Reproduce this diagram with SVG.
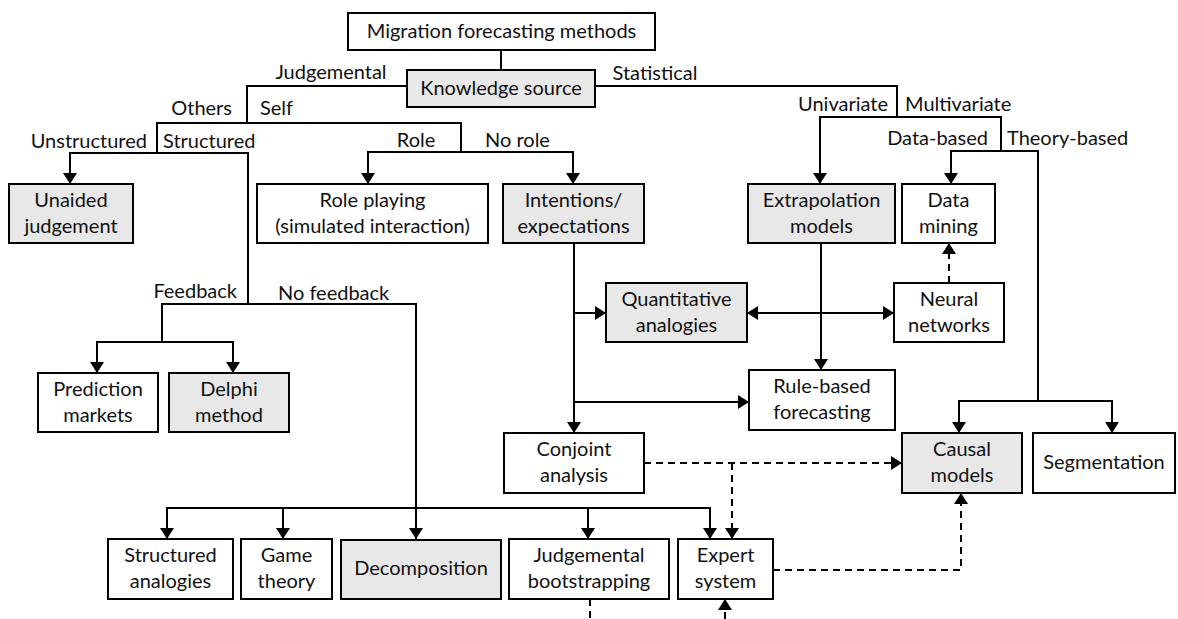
<svg xmlns="http://www.w3.org/2000/svg" width="1178" height="619" viewBox="0 0 1178 619">
  <style>
    .box { fill: #ffffff; stroke: #000000; stroke-width: 2; }
    .gray { fill: #e8e8e8; }
    text { font-family: Lato, "Open Sans", "Liberation Sans", sans-serif; font-size: 20px; fill: #111111; }
    .c { text-anchor: middle; }
    .e { text-anchor: end; }
    .ln { fill: none; stroke: #000000; stroke-width: 2; }
    .arr { marker-end: url(#head); }
    .dash { stroke-dasharray: 7 5; }
  </style>
  <defs>
    <marker id="head" viewBox="0 0 11 14" refX="11" refY="7" markerWidth="11" markerHeight="14" markerUnits="userSpaceOnUse" orient="auto">
      <path d="M0,0 L11,7 L0,14 Z" fill="#000000"/>
    </marker>
    <marker id="tail" viewBox="0 0 11 14" refX="0" refY="7" markerWidth="11" markerHeight="14" markerUnits="userSpaceOnUse" orient="auto">
      <path d="M11,0 L0,7 L11,14 Z" fill="#000000"/>
    </marker>
  </defs>

  <!-- connectors -->
  <g id="connectors">
    <path class="ln" d="M501,50 V70"/>
    <path class="ln" d="M407,86 H247 V123"/>
    <path class="ln" d="M157,153 V123 H461 V152"/>
    <path class="ln arr" d="M157,153 H70 V184"/>
    <path class="ln" d="M157,153 H248 V304"/>
    <path class="ln arr" d="M461,152 H368 V184"/>
    <path class="ln arr" d="M461,152 H573 V184"/>
    <path class="ln" d="M248,304 H162 V342"/>
    <path class="ln arr" d="M248,304 H416 V539"/>
    <path class="ln arr" d="M162,342 H97 V373"/>
    <path class="ln arr" d="M162,342 H233 V373"/>
    <path class="ln arr" d="M416,508 H167 V539"/>
    <path class="ln arr" d="M283,508 V539"/>
    <path class="ln arr" d="M416,508 H710 V539"/>
    <path class="ln arr" d="M588,508 V539"/>
    <path class="ln" d="M595,86 H897 V117"/>
    <path class="ln arr" d="M897,117 H820 V184"/>
    <path class="ln" d="M897,117 H1001 V151"/>
    <path class="ln arr" d="M1001,151 H951 V184"/>
    <path class="ln" d="M1001,151 H1038 V401"/>
    <path class="ln arr" d="M1038,401 H959 V433"/>
    <path class="ln arr" d="M1038,401 H1112 V433"/>
    <path class="ln arr" d="M574,243 V433"/>
    <path class="ln arr" d="M574,313 H606"/>
    <path class="ln arr" d="M574,402 H749"/>
    <path class="ln arr" d="M821,243 V370"/>
    <path class="ln arr" d="M747,313 H894" marker-start="url(#tail)"/>
    <path class="ln dash arr" d="M949,283 V243"/>
    <path class="ln dash arr" d="M644,463 H902"/>
    <path class="ln dash arr" d="M732,463 V539"/>
    <path class="ln dash arr" d="M773,570 H961 V493"/>
    <path class="ln dash" d="M590,599 V619"/>
    <path class="ln dash arr" d="M725,619 V599"/>
  </g>

  <!-- branch labels -->
  <g id="labels">
    <text x="331" y="79" class="c">Judgemental</text>
    <text x="655" y="80" class="c">Statistical</text>
    <text x="232" y="115" class="e">Others</text>
    <text x="260" y="115">Self</text>
    <text x="147" y="148" class="e">Unstructured</text>
    <text x="163" y="148">Structured</text>
    <text x="416" y="147" class="c">Role</text>
    <text x="485" y="147">No role</text>
    <text x="888" y="111" class="e">Univariate</text>
    <text x="905" y="111">Multivariate</text>
    <text x="988" y="145" class="e">Data-based</text>
    <text x="1007" y="145">Theory-based</text>
    <text x="237" y="298" class="e">Feedback</text>
    <text x="278" y="300">No feedback</text>
  </g>

  <!-- nodes -->
  <g id="n-migration">
    <rect class="box" x="348" y="13" width="307" height="37"/>
    <text x="501.5" y="38" class="c">Migration forecasting methods</text>
  </g>
  <g id="n-knowledge">
    <rect class="box gray" x="407" y="70" width="188" height="37"/>
    <text x="501" y="95" class="c">Knowledge source</text>
  </g>
  <g id="n-unaided">
    <rect class="box gray" x="9" y="184" width="124" height="59"/>
    <text x="71" y="207" class="c">Unaided</text>
    <text x="71" y="233" class="c">judgement</text>
  </g>
  <g id="n-roleplaying">
    <rect class="box" x="257" y="184" width="231" height="59"/>
    <text x="372.5" y="207" class="c">Role playing</text>
    <text x="372.5" y="233" class="c">(simulated interaction)</text>
  </g>
  <g id="n-intentions">
    <rect class="box gray" x="503" y="184" width="141" height="59"/>
    <text x="573.5" y="207" class="c">Intentions/</text>
    <text x="573.5" y="233" class="c">expectations</text>
  </g>
  <g id="n-extrapolation">
    <rect class="box gray" x="748" y="184" width="147" height="59"/>
    <text x="821.5" y="207" class="c">Extrapolation</text>
    <text x="821.5" y="233" class="c">models</text>
  </g>
  <g id="n-datamining">
    <rect class="box" x="902" y="184" width="93" height="59"/>
    <text x="948.5" y="207" class="c">Data</text>
    <text x="948.5" y="233" class="c">mining</text>
  </g>
  <g id="n-quantitative">
    <rect class="box gray" x="606" y="283" width="141" height="59"/>
    <text x="676.5" y="306" class="c">Quantitative</text>
    <text x="676.5" y="332" class="c">analogies</text>
  </g>
  <g id="n-neural">
    <rect class="box" x="894" y="283" width="110" height="59"/>
    <text x="949" y="306" class="c">Neural</text>
    <text x="949" y="332" class="c">networks</text>
  </g>
  <g id="n-prediction">
    <rect class="box" x="38" y="373" width="120" height="59"/>
    <text x="98" y="396" class="c">Prediction</text>
    <text x="98" y="422" class="c">markets</text>
  </g>
  <g id="n-delphi">
    <rect class="box gray" x="169" y="373" width="120" height="59"/>
    <text x="229" y="396" class="c">Delphi</text>
    <text x="229" y="422" class="c">method</text>
  </g>
  <g id="n-rulebased">
    <rect class="box" x="749" y="370" width="146" height="60"/>
    <text x="822" y="393" class="c">Rule-based</text>
    <text x="822" y="419" class="c">forecasting</text>
  </g>
  <g id="n-conjoint">
    <rect class="box" x="504" y="433" width="140" height="60"/>
    <text x="574" y="456" class="c">Conjoint</text>
    <text x="574" y="482" class="c">analysis</text>
  </g>
  <g id="n-causal">
    <rect class="box gray" x="902" y="433" width="120" height="60"/>
    <text x="962" y="456" class="c">Causal</text>
    <text x="962" y="482" class="c">models</text>
  </g>
  <g id="n-segmentation">
    <rect class="box" x="1033" y="433" width="142" height="60"/>
    <text x="1104" y="469" class="c">Segmentation</text>
  </g>
  <g id="n-structured">
    <rect class="box" x="108" y="539" width="125" height="60"/>
    <text x="170.5" y="562" class="c">Structured</text>
    <text x="170.5" y="588" class="c">analogies</text>
  </g>
  <g id="n-gametheory">
    <rect class="box" x="241" y="539" width="91" height="60"/>
    <text x="286.5" y="562" class="c">Game</text>
    <text x="286.5" y="588" class="c">theory</text>
  </g>
  <g id="n-decomposition">
    <rect class="box gray" x="341" y="540" width="160" height="59"/>
    <text x="421" y="575" class="c">Decomposition</text>
  </g>
  <g id="n-bootstrapping">
    <rect class="box" x="509" y="539" width="160" height="60"/>
    <text x="589" y="562" class="c">Judgemental</text>
    <text x="589" y="588" class="c">bootstrapping</text>
  </g>
  <g id="n-expert">
    <rect class="box" x="678" y="539" width="95" height="60"/>
    <text x="725.5" y="562" class="c">Expert</text>
    <text x="725.5" y="588" class="c">system</text>
  </g>
</svg>
